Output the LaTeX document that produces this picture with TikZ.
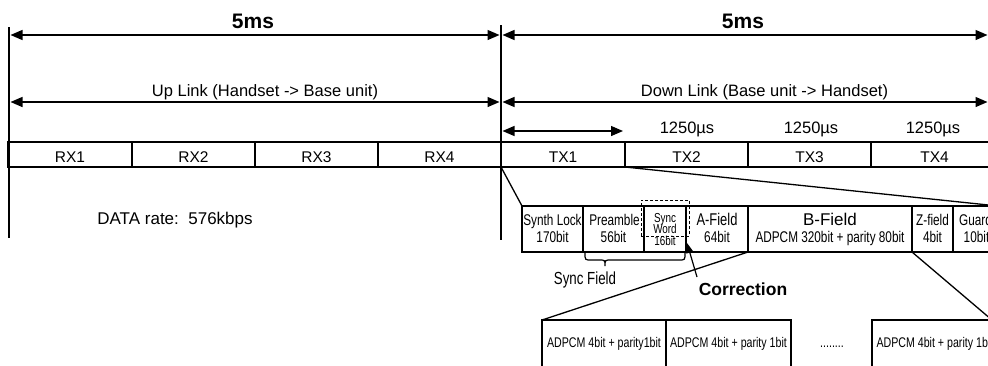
\documentclass[tikz,border=0pt]{standalone}
\usepackage{fontspec}
\setmainfont{Liberation Sans}
\newfontfamily\narrowfont[FakeStretch=0.76]{Liberation Sans}
\usetikzlibrary{arrows.meta}
\begin{document}
\begin{tikzpicture}[x=1pt,y=-1pt,
  every node/.style={inner sep=0pt,outer sep=0pt},
  ln/.style={line width=1.3pt},
  dimarrow/.style={line width=1.3pt,{Triangle[length=12pt,width=10pt]}-{Triangle[length=12pt,width=10pt]}},
  onearrow/.style={line width=1.2pt,-{Triangle[length=10pt,width=7pt]}},
  slotbox/.style={draw,line width=1.3pt,minimum height=25pt},
  fieldbox/.style={draw,line width=1.3pt,minimum height=46pt},
  lowbox/.style={draw,line width=1.3pt,minimum height=52pt},
  dashbox/.style={draw,line width=0.9pt,dash pattern=on 3pt off 2pt,minimum width=48pt,minimum height=36pt},
  big/.style={font=\bfseries\fontsize{21}{24}\selectfont,anchor=base},
  lbl/.style={font=\fontsize{16.5}{19}\selectfont,anchor=base},
  slottxt/.style={font=\fontsize{15.5}{18}\selectfont,anchor=base},
  ntxt/.style={font=\narrowfont\fontsize{15.5}{18}\selectfont,anchor=base},
  stxt/.style={font=\narrowfont\fontsize{13}{14}\selectfont,anchor=base},
  ltxt/.style={font=\narrowfont\fontsize{14}{16}\selectfont,anchor=base},
]
\useasboundingbox (0,0) rectangle (988,365);
\clip (0,0) rectangle (988,365);

% vertical frame lines
\coordinate (vLt) at (9,27);   \coordinate (vLb) at (9,238);
\coordinate (vMt) at (501,25); \coordinate (vMb) at (501,240);
\draw[ln] (vLt) -- (vLb);
\draw[ln] (vMt) -- (vMb);

% dimension arrows
\coordinate (a1l) at (10.5,35);  \coordinate (a1r) at (499.5,35);
\coordinate (a2l) at (502.5,35); \coordinate (a2r) at (987.5,35);
\coordinate (b1l) at (10.5,102); \coordinate (b1r) at (499.5,102);
\coordinate (b2l) at (502.5,102);\coordinate (b2r) at (987.5,102);
\coordinate (c1l) at (502.5,131);\coordinate (c1r) at (623,131);
\draw[dimarrow] (a1l) -- (a1r);
\draw[dimarrow] (a2l) -- (a2r);
\draw[dimarrow] (b1l) -- (b1r);
\draw[dimarrow] (b2l) -- (b2r);
\draw[dimarrow] (c1l) -- (c1r);

\node[big] (t5a) at (253,28) {5ms};
\node[big] (t5b) at (743,28) {5ms};
\node[lbl] (up) at (265,96.5) {Up Link (Handset -> Base unit)};
\node[lbl] (down) at (764.5,96.5) {Down Link (Base unit -> Handset)};
\node[lbl] (u2) at (687,133) {1250µs};
\node[lbl] (u3) at (811,133) {1250µs};
\node[lbl] (u4) at (933,133) {1250µs};

% slot row
\node[slotbox,minimum width=124pt] (rx1) at (70,154.5) {};
\node[slotbox,minimum width=123pt] (rx2) at (193.5,154.5) {};
\node[slotbox,minimum width=123pt] (rx3) at (316.5,154.5) {};
\node[slotbox,minimum width=123pt] (rx4) at (439.5,154.5) {};
\node[slotbox,minimum width=124pt] (tx1) at (563,154.5) {};
\node[slotbox,minimum width=123pt] (tx2) at (686.5,154.5) {};
\node[slotbox,minimum width=123pt] (tx3) at (809.5,154.5) {};
\node[slotbox,minimum width=127pt] (tx4) at (934.5,154.5) {};
\node[slottxt] (rx1t) at (70,162) {RX1};
\node[slottxt] (rx2t) at (193.5,162) {RX2};
\node[slottxt] (rx3t) at (316.5,162) {RX3};
\node[slottxt] (rx4t) at (439.5,162) {RX4};
\node[slottxt] (tx1t) at (563,162) {TX1};
\node[slottxt] (tx2t) at (686.5,162) {TX2};
\node[slottxt] (tx3t) at (809.5,162) {TX3};
\node[slottxt] (tx4t) at (934.5,162) {TX4};

\node[font=\fontsize{17}{20}\selectfont,anchor=base] (rate) at (175,224) {DATA rate:\ \ 576kbps};

% field row
\node[fieldbox,minimum width=61pt] (synth) at (552.5,229) {};
\node[fieldbox,minimum width=61pt] (pre) at (613.5,229) {};
\node[fieldbox,minimum width=42pt] (sync) at (665,229) {};
\node[fieldbox,minimum width=62pt] (afield) at (717,229) {};
\node[fieldbox,minimum width=164pt] (bfield) at (830,229) {};
\node[fieldbox,minimum width=41pt] (zfield) at (932.5,229) {};
\node[fieldbox,minimum width=45pt] (guard) at (975.5,229) {};
\node[dashbox] (sw) at (665,218) {};

\node[ntxt] (synth1) at (552.5,225) {Synth Lock};
\node[ntxt] (synth2) at (552.5,242) {170bit};
\node[ntxt] (pre1) at (614.5,225) {Preamble};
\node[ntxt] (pre2) at (613.5,242) {56bit};
\node[stxt] (sync1) at (665,222) {Sync};
\node[stxt] (sync2) at (665,233.5) {Word};
\node[stxt] (sync3) at (665,245) {16bit};
\node[ntxt,font=\narrowfont\fontsize{17}{18}\selectfont] (af1) at (717,225) {A-Field};
\node[ntxt] (af2) at (717,242) {64bit};
\node[font=\fontsize{17}{18}\selectfont,anchor=base] (bf1) at (830,225) {B-Field};
\node[ntxt] (bf2) at (830,242) {ADPCM 320bit + parity 80bit};
\node[ntxt] (zf1) at (932.5,225) {Z-field};
\node[ntxt] (zf2) at (932.5,242) {4bit};
\node[ntxt] (gd1) at (975.5,225) {Guard};
\node[ntxt] (gd2) at (976.5,242) {10bit};

% fan-out lines
\draw[ln] (tx1.south west) -- (synth.north west);
\draw[ln] (tx1.south east) -- (guard.north east);

% brace under sync field
\draw[line width=1.2pt] (585,253) .. controls (585,260) .. (591,260) -- (599,260)
  .. controls (605,260) .. (605,266) .. controls (605,260) .. (611,260) -- (679,260)
  .. controls (685,260) .. (685,253);
\node[ntxt,font=\narrowfont\fontsize{17.5}{19}\selectfont] (sf) at (585,284.5) {Sync Field};

% correction arrow
\coordinate (ctail) at (697,277);
\coordinate (ctip) at (687,243);
\draw[onearrow] (ctail) -- (ctip);
\node[font=\bfseries\fontsize{17.5}{20}\selectfont,anchor=base] (corr) at (743,295) {Correction};

% lower boxes
\node[lowbox,minimum width=124pt] (lb1) at (604,346) {};
\node[lowbox,minimum width=125pt] (lb2) at (728.5,346) {};
\node[lowbox,minimum width=120pt] (lb3) at (932,346) {};
\node[ltxt] (lt1) at (604,347) {ADPCM 4bit + parity1bit};
\node[ltxt] (lt2) at (728.5,347) {ADPCM 4bit + parity 1bit};
\node[ltxt] (dots) at (832,347) {........};
\node[ltxt,anchor=base west] (lt3) at (876.5,347) {ADPCM 4bit + parity 1bit};

\draw[ln] (bfield.south west) -- (lb1.north west);
\draw[ln] (bfield.south east) -- (lb3.north east);
\end{tikzpicture}
\end{document}
